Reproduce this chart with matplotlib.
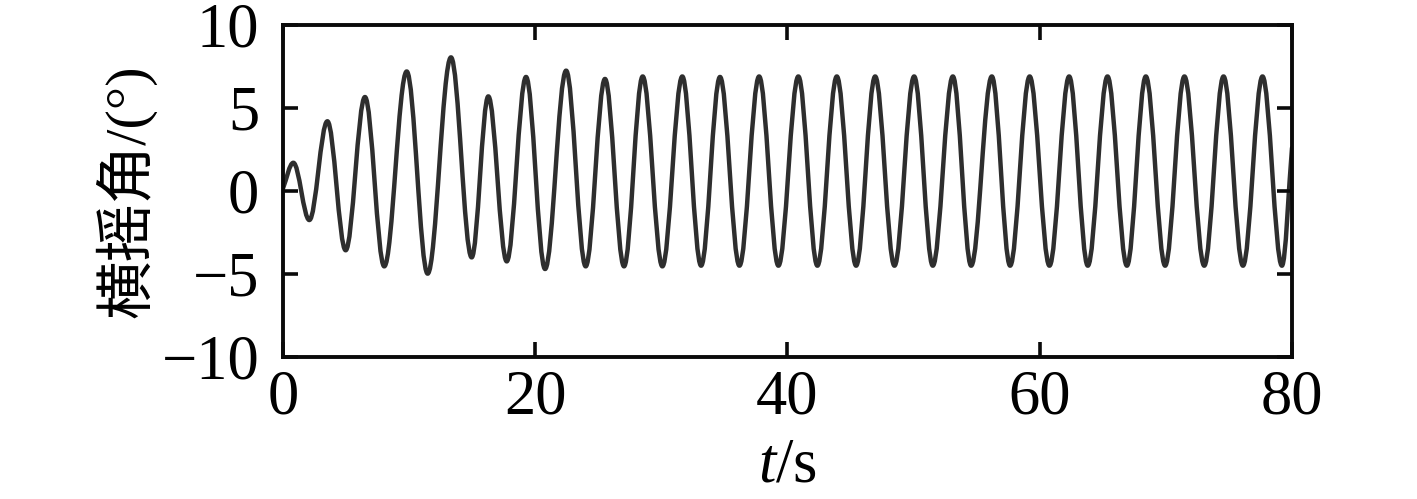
import matplotlib
matplotlib.use("Agg")
import matplotlib.pyplot as plt
from matplotlib.path import Path
from matplotlib.patches import PathPatch

# roll angle extrema (time in s, angle in degrees)
peak_t = [0.82, 3.52, 6.5, 9.81, 13.32, 16.28, 19.27, 22.45, 25.53, 28.52, 31.66, 34.65, 37.75,
          40.86, 43.91, 46.95, 50.04, 53.11, 56.2, 59.2, 62.33, 65.37, 68.41, 71.47, 74.57, 77.66]
peak_v = [1.7, 4.2, 5.66, 7.2, 8.05, 5.7, 6.87, 7.25, 6.75, 6.9, 6.9, 6.87, 6.9,
          6.9, 6.9, 6.9, 6.9, 6.9, 6.9, 6.9, 6.9, 6.9, 6.9, 6.9, 6.9, 6.9]
trough_t = [2.09, 4.97, 8.03, 11.47, 14.96, 17.74, 20.78, 24.0, 27.04, 30.08, 33.15, 36.19, 39.28,
            42.37, 45.44, 48.48, 51.52, 54.56, 57.65, 60.77, 63.81, 66.91, 69.94, 73.04, 76.11, 79.2]
trough_v = [-1.75, -3.57, -4.54, -4.98, -4.0, -4.24, -4.7, -4.54, -4.54, -4.54, -4.5, -4.5, -4.5,
            -4.5, -4.5, -4.5, -4.5, -4.5, -4.5, -4.5, -4.5, -4.5, -4.5, -4.5, -4.5, -4.5]
start_point = (0.0, 0.16)
end_point = (80.0, 2.6)

x_ticks = [0, 20, 40, 60, 80]
y_ticks = [-10, -5, 0, 5, 10]

plt.rcParams['font.family'] = ['Liberation Serif', 'Noto Sans CJK SC']
plt.rcParams['mathtext.fontset'] = 'custom'
plt.rcParams['mathtext.rm'] = 'Liberation Serif'
plt.rcParams['mathtext.it'] = 'Liberation Serif:italic'


def build_curve():
    # alternate peaks and troughs, smooth segments with flat tangents at extrema
    extrema = []
    for i in range(len(peak_t)):
        extrema.append((peak_t[i], peak_v[i]))
        extrema.append((trough_t[i], trough_v[i]))
    points = [start_point] + extrema + [end_point]
    is_ext = [False] + [True] * len(extrema) + [False]

    verts = [points[0]]
    codes = [Path.MOVETO]
    k = 0.36
    for i in range(len(points) - 1):
        (ta, va), (tb, vb) = points[i], points[i + 1]
        dt = tb - ta
        if is_ext[i]:
            c1 = (ta + k * dt, va)
        else:
            c1 = (ta + dt / 3, va + (vb - va) / 3)
        if is_ext[i + 1]:
            c2 = (tb - k * dt, vb)
        else:
            c2 = (tb - dt / 3, vb - (vb - va) / 3)
        verts += [c1, c2, (tb, vb)]
        codes += [Path.CURVE4] * 3
    return Path(verts, codes)


fig = plt.figure(figsize=(14.17, 4.99), dpi=100)
ax = fig.add_axes([0.1997, 0.2846, 0.7121, 0.6653])

patch = PathPatch(build_curve(), facecolor='none', edgecolor='#2e2e2e', linewidth=3.2,
                  transform=ax.transData, capstyle='round', joinstyle='round')
ax.add_patch(patch)

ax.set_xlim(0, 80)
ax.set_ylim(-10, 10)
ax.set_xticks(x_ticks)
ax.set_yticks(y_ticks)

for s in ax.spines.values():
    s.set_linewidth(2.8)
    s.set_color('#0a0a0a')
ax.tick_params(direction='in', length=10.5, width=2.6, labelsize=45, top=True, right=True,
               color='#0a0a0a')
ax.tick_params(axis='x', pad=9)
ax.tick_params(axis='y', pad=17)

ax.set_xlabel('$t$/s', fontsize=45, labelpad=7)
ax.set_ylabel('横摇角/(°)', fontsize=42, labelpad=4)

fig.savefig('out.png', dpi=100)
